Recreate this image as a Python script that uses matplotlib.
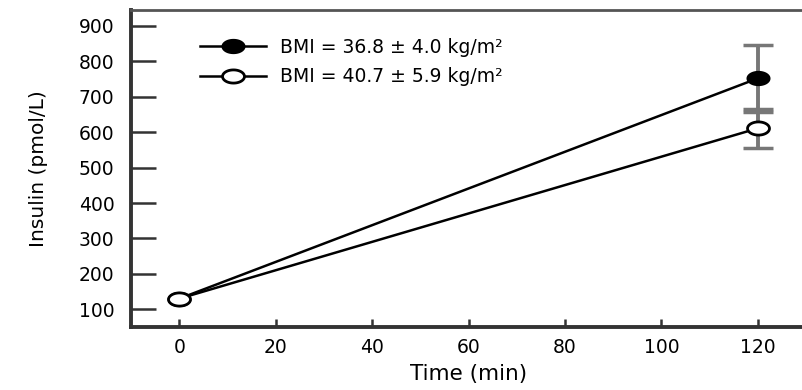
import numpy as np
import matplotlib
matplotlib.use("Agg")
import matplotlib.pyplot as plt
from matplotlib.path import Path

# ---- data ----
time_min = [0, 120]
insulin_bmi1 = [130, 752]
err_bmi1 = [0, 94]
insulin_bmi2 = [130, 611]
err_bmi2 = [0, 55]
label_bmi1 = "BMI = 36.8 \u00b1 4.0 kg/m\u00b2"
label_bmi2 = "BMI = 40.7 \u00b1 5.9 kg/m\u00b2"
xticks = [0, 20, 40, 60, 80, 100, 120]
yticks = [100, 200, 300, 400, 500, 600, 700, 800, 900]

plt.rcParams['font.family'] = ['DejaVu Sans']

W, H = 802, 390
fig = plt.figure(figsize=(W / 100, H / 100), dpi=100)
ax = fig.add_axes([131 / W, 1 - 327 / H, (806 - 131) / W, (327 - 10) / H])

# elliptical marker
t = np.linspace(0, 2 * np.pi, 60)
ell = Path(np.column_stack([np.cos(t), 0.6 * np.sin(t)]), closed=True)
ms = 15.8

# error bars only where the error is non-zero
for y, e in [(insulin_bmi1, err_bmi1), (insulin_bmi2, err_bmi2)]:
    xs = [x for x, ee in zip(time_min, e) if ee > 0]
    ys = [v for v, ee in zip(y, e) if ee > 0]
    es = [ee for ee in e if ee > 0]
    ax.errorbar(xs, ys, yerr=es, fmt='none', ecolor='#777777',
                elinewidth=2.8, capsize=11, capthick=2.5, zorder=2)

ax.plot(time_min, insulin_bmi1, color='black', lw=1.8, marker=ell, ms=ms,
        mfc='black', mec='black', mew=1.5, label=label_bmi1, zorder=3)
ax.plot(time_min, insulin_bmi2, color='black', lw=1.8, marker=ell, ms=ms,
        mfc='white', mec='black', mew=2.0, label=label_bmi2, zorder=4)

ax.set_xlim(-10, 130)
ax.set_ylim(50, 945)
ax.set_xticks(xticks)
ax.set_yticks(yticks)
ax.tick_params(axis='y', direction='in', length=18, width=1.8, color='#333333',
               labelsize=13.5, pad=12)
ax.tick_params(axis='x', direction='in', length=6, width=1.8, color='#333333',
               labelsize=13.5, pad=8)
for s in ['left', 'bottom']:
    ax.spines[s].set_linewidth(2.8)
    ax.spines[s].set_color('#333333')
ax.spines['top'].set_linewidth(2)
ax.spines['top'].set_color('#555555')
ax.spines['right'].set_visible(False)

ax.set_xlabel("Time (min)", fontsize=15.5, labelpad=5)
ax.set_ylabel("Insulin (pmol/L)", fontsize=14.5, labelpad=22)

leg = ax.legend(loc='upper left', bbox_to_anchor=(200 / W, 1 - 38 / H),
                bbox_transform=fig.transFigure, frameon=False, fontsize=13.5,
                handlelength=3.5, handletextpad=0.75, labelspacing=0.55,
                borderpad=0, borderaxespad=0)

fig.savefig("out.png", dpi=100)
